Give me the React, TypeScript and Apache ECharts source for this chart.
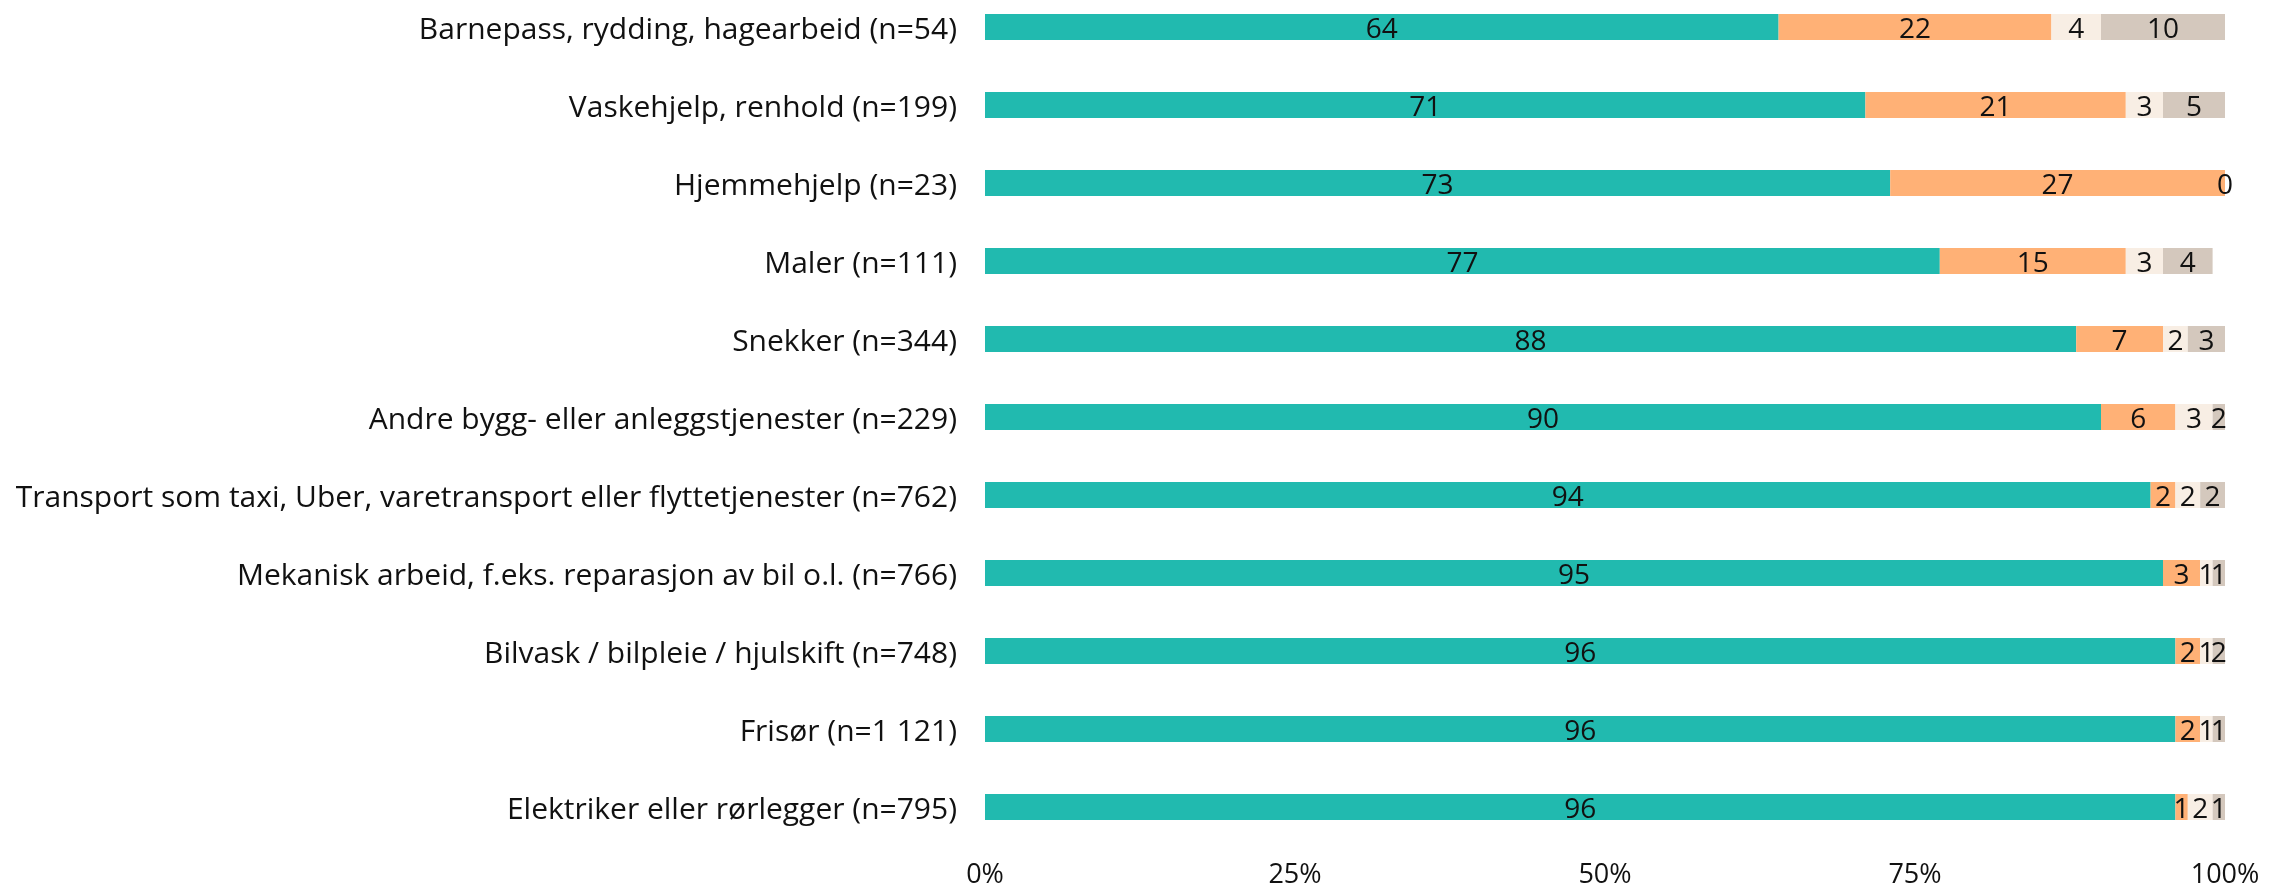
import React, { useEffect, useRef } from "react";
import * as echarts from "echarts";

const categories = [
  "Barnepass, rydding, hagearbeid (n=54)",
  "Vaskehjelp, renhold (n=199)",
  "Hjemmehjelp (n=23)",
  "Maler (n=111)",
  "Snekker (n=344)",
  "Andre bygg- eller anleggstjenester (n=229)",
  "Transport som taxi, Uber, varetransport eller flyttetjenester (n=762)",
  "Mekanisk arbeid, f.eks. reparasjon av bil o.l. (n=766)",
  "Bilvask / bilpleie / hjulskift (n=748)",
  "Frisør (n=1 121)",
  "Elektriker eller rørlegger (n=795)",
];

const series1 = [64, 71, 73, 77, 88, 90, 94, 95, 96, 96, 96];
const series2 = [22, 21, 27, 15, 7, 6, 2, 3, 2, 2, 1];
const series3 = [4, 3, 0, 3, 2, 3, 2, 1, 1, 1, 2];
const series4 = [10, 5, null, 4, 3, 2, 2, 1, 2, 1, 1];

const xTickValues = [0, 25, 50, 75, 100];

const colors = ["#21BAAF", "#FFB176", "#F8EEE4", "#D4C8BD"];
const FONT = "Open Sans";

export default function App() {
  const ref = useRef<HTMLDivElement>(null);

  useEffect(() => {
    if (!ref.current) return;
    const chart = echarts.init(ref.current, undefined, { renderer: "svg" });
    const seriesData = [series1, series2, series3, series4];
    chart.setOption({
      animation: false,
      grid: { left: 985, right: 44, top: 0, height: 858, containLabel: false },
      xAxis: {
        type: "value",
        min: xTickValues[0],
        max: xTickValues[xTickValues.length - 1],
        interval: 25,
        axisLine: { show: false },
        axisTick: { show: false },
        splitLine: { show: false },
        axisLabel: {
          formatter: (v: number) => `${v}%`,
          fontFamily: FONT,
          fontSize: 27,
          color: "#111",
          margin: 13,
        },
      },
      yAxis: {
        type: "category",
        data: categories,
        inverse: true,
        axisLine: { show: false },
        axisTick: { show: false },
        splitLine: { show: false },
        axisLabel: {
          fontFamily: FONT,
          fontSize: 30,
          color: "#111",
          margin: 28,
        },
      },
      series: seriesData.map((d, i) => ({
        type: "bar",
        name: `Andel ${i + 1}`,
        stack: "total",
        data: d,
        barWidth: 26,
        itemStyle: { color: colors[i] },
        label: {
          show: true,
          position: "inside",
          fontFamily: FONT,
          fontSize: 28,
          color: "#111",
        },
      })),
    });
    return () => chart.dispose();
  }, []);

  return (
    <div
      ref={ref}
      style={{ position: "fixed", left: 0, top: -12, width: 2269, height: 905 }}
    />
  );
}
